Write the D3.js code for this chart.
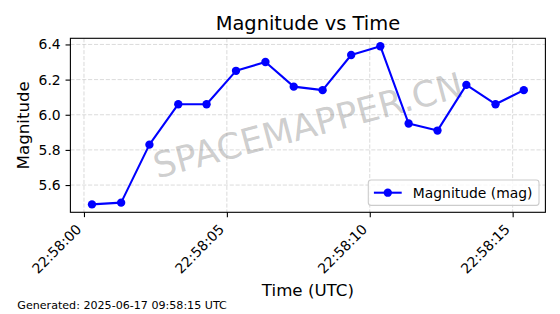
<!DOCTYPE html>
<html><head><meta charset="utf-8">
<script src="https://cdn.jsdelivr.net/npm/d3@7"></script>
<style>
body{margin:0;background:#fff;}
text{font-family:"DejaVu Sans",sans-serif;}
</style>
</head><body>
<svg id="chart" width="560" height="314"></svg>
<script>
// ---- data ----
const times = ["22:58:00.280","22:58:01.300","22:58:02.290","22:58:03.300","22:58:04.290",
  "22:58:05.320","22:58:06.350","22:58:07.340","22:58:08.350","22:58:09.350",
  "22:58:10.370","22:58:11.360","22:58:12.370","22:58:13.380","22:58:14.400","22:58:15.390"];
const magnitudes = [5.49,5.50,5.83,6.06,6.06,6.25,6.30,6.16,6.14,6.34,6.39,5.95,5.91,6.17,6.06,6.14];
const yTicks = [5.6,5.8,6.0,6.2,6.4];
const xTickLabels = ["22:58:00","22:58:05","22:58:10","22:58:15"];
const seriesName = "Magnitude (mag)";
const titleText = "Magnitude vs Time";
const xLabel = "Time (UTC)";
const yLabel = "Magnitude";
const footer = "Generated: 2025-06-17 09:58:15 UTC";
const watermark = "SPACEMAPPER.CN";

// ---- layout ----
const W = 560, H = 314;
const L = 70.4, R = 545.4, T = 38.3, B = 212.3;
const svg = d3.select("#chart");

const parseT = d3.timeParse("%H:%M:%S.%L");
const parseTick = d3.timeParse("%H:%M:%S");
const data = times.map((t,i)=>({t:parseT(t), v:magnitudes[i]}));

const tExt = d3.extent(data, d=>d.t);
const tPad = (tExt[1]-tExt[0])*0.05;
const x = d3.scaleTime().domain([new Date(+tExt[0]-tPad), new Date(+tExt[1]+tPad)]).range([L,R]);
const vExt = d3.extent(magnitudes);
const vPad = (vExt[1]-vExt[0])*0.05;
const y = d3.scaleLinear().domain([vExt[0]-vPad, vExt[1]+vPad]).range([B,T]);
const xTickVals = xTickLabels.map(parseTick);

// grid
const grid = svg.append("g");
grid.selectAll("line.h").data(yTicks).join("line")
  .attr("x1",L).attr("x2",R).attr("y1",d=>y(d)).attr("y2",d=>y(d))
  .attr("stroke","#b0b0b0").attr("stroke-opacity",0.6).attr("stroke-width",0.8)
  .attr("stroke-dasharray","4.1,1.8");
grid.selectAll("line.v").data(xTickVals).join("line")
  .attr("y1",T).attr("y2",B).attr("x1",d=>x(d)).attr("x2",d=>x(d))
  .attr("stroke","#b0b0b0").attr("stroke-opacity",0.6).attr("stroke-width",0.8)
  .attr("stroke-dasharray","4.1,1.8");

// watermark
svg.append("text")
  .attr("transform",`translate(${(L+R)/2},${(T+B)/2}) rotate(-15)`)
  .attr("text-anchor","middle").attr("dominant-baseline","central")
  .attr("font-size",35.5).attr("fill","#808080").attr("fill-opacity",0.4)
  .text(watermark);

// line + markers
svg.append("path").datum(data)
  .attr("d", d3.line().x(d=>x(d.t)).y(d=>y(d.v)))
  .attr("fill","none").attr("stroke","#0000ff").attr("stroke-width",2.08)
  .attr("stroke-linejoin","round");
svg.append("g").selectAll("circle").data(data).join("circle")
  .attr("cx",d=>x(d.t)).attr("cy",d=>y(d.v)).attr("r",4.17).attr("fill","#0000ff");

// spines
svg.append("rect").attr("x",L).attr("y",T).attr("width",R-L).attr("height",B-T)
  .attr("fill","none").attr("stroke","#000").attr("stroke-width",1.1);

// axes
const xAxis = svg.append("g").attr("transform",`translate(0,${B})`)
  .call(d3.axisBottom(x).tickValues(xTickVals).tickFormat(d3.timeFormat("%H:%M:%S"))
    .tickSize(4.86).tickSizeOuter(0));
xAxis.select(".domain").remove();
xAxis.selectAll(".tick line").attr("stroke-width",1.1);
xAxis.selectAll(".tick text")
  .attr("x",0).attr("y",0).attr("dy",0)
  .attr("text-anchor","end")
  .attr("transform","translate(-2.3,18) rotate(-45)")
  .attr("font-size",13.9).attr("font-family","DejaVu Sans").attr("fill","#000");

const yAxis = svg.append("g").attr("transform",`translate(${L},0)`)
  .call(d3.axisLeft(y).tickValues(yTicks).tickFormat(d3.format(".1f"))
    .tickSize(4.86).tickPadding(4.86).tickSizeOuter(0));
yAxis.select(".domain").remove();
yAxis.selectAll(".tick line").attr("stroke-width",1.1);
yAxis.selectAll(".tick text").attr("font-size",13.9).attr("font-family","DejaVu Sans").attr("fill","#000");

// legend
const lg = svg.append("g");
lg.append("rect").attr("x",368.3).attr("y",180).attr("width",170.7).attr("height",25.4)
  .attr("rx",2.8).attr("fill","#fff").attr("fill-opacity",0.8)
  .attr("stroke","#cccccc").attr("stroke-width",1.1);
lg.append("line").attr("x1",373.9).attr("x2",401.7).attr("y1",192.7).attr("y2",192.7)
  .attr("stroke","#0000ff").attr("stroke-width",2.08);
lg.append("circle").attr("cx",387.8).attr("cy",192.7).attr("r",4.17).attr("fill","#0000ff");
lg.append("text").attr("x",412.8).attr("y",192.7).attr("dy","0.35em")
  .attr("font-size",13.9).text(seriesName);

// titles
svg.append("text").attr("x",(L+R)/2).attr("y",30).attr("text-anchor","middle")
  .attr("font-size",19.44).text(titleText);
svg.append("text").attr("x",(L+R)/2).attr("y",296).attr("text-anchor","middle")
  .attr("font-size",16.67).text(xLabel);
svg.append("text").attr("transform",`translate(29,${(T+B)/2}) rotate(-90)`)
  .attr("text-anchor","middle").attr("font-size",16.67).text(yLabel);
svg.append("text").attr("x",17.3).attr("y",309.3).attr("font-size",11.1).text(footer);
</script>
</body></html>
